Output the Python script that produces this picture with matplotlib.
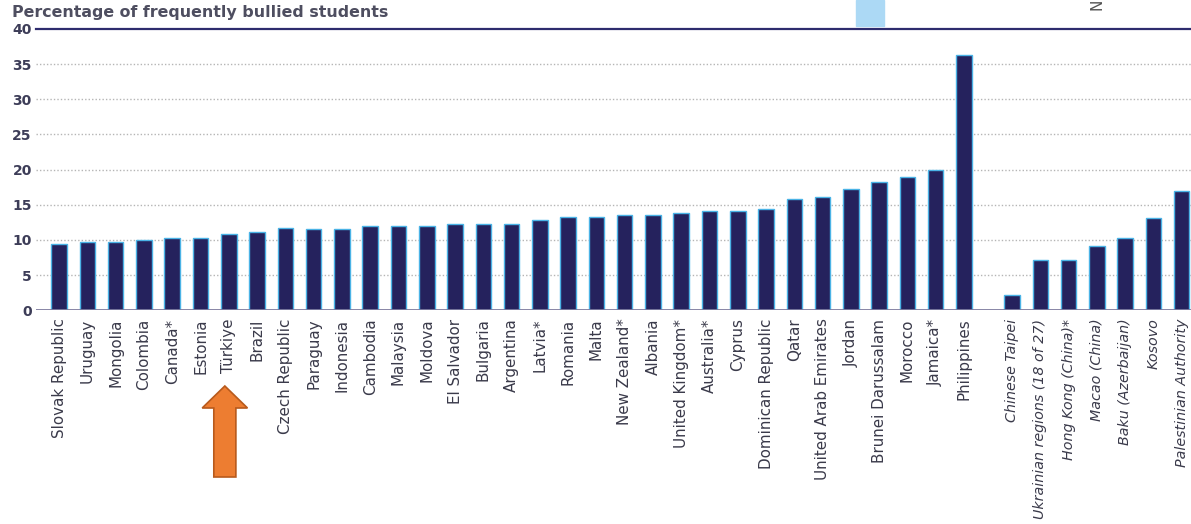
import numpy as np
import matplotlib
matplotlib.use("Agg")
import matplotlib.pyplot as plt
import matplotlib.patches as mpatches
import matplotlib.transforms as mtransforms

# countries sorted by share of frequently bullied students
countries = ["Slovak Republic", "Uruguay", "Mongolia", "Colombia", "Canada*", "Estonia",
             "Türkiye", "Brazil", "Czech Republic", "Paraguay", "Indonesia", "Cambodia",
             "Malaysia", "Moldova", "El Salvador", "Bulgaria", "Argentina", "Latvia*",
             "Romania", "Malta", "New Zealand*", "Albania", "United Kingdom*", "Australia*",
             "Cyprus", "Dominican Republic", "Qatar", "United Arab Emirates", "Jordan",
             "Brunei Darussalam", "Morocco", "Jamaica*", "Philippines"]
country_vals = [9.4, 9.7, 9.7, 10.0, 10.3, 10.3, 10.9, 11.1, 11.7, 11.6, 11.6, 12.0,
                12.0, 12.0, 12.3, 12.3, 12.3, 12.9, 13.2, 13.2, 13.5, 13.5, 13.8, 14.1,
                14.1, 14.4, 15.8, 16.1, 17.2, 18.2, 18.9, 20.0, 36.3]

economies = ["Chinese Taipei", "Ukrainian regions (18 of 27)", "Hong Kong (China)*",
             "Macao (China)", "Baku (Azerbaijan)", "Kosovo", "Palestinian Authority"]
economy_vals = [2.1, 7.1, 7.1, 9.1, 10.3, 13.1, 17.0]

yticks = [0, 5, 10, 15, 20, 25, 30, 35, 40]

navy = "#25225d"
edge = "#4ab3e6"
txt = "#3a3a4a"

fig = plt.figure(figsize=(11.91, 5.24), dpi=100)
ax = fig.add_axes([0.0302, 0.408, 0.9698, 0.5367])

# positions: gap of ~0.7 slot between the two groups
x_c = np.arange(len(countries))
x_e = len(countries) + 0.7 + np.arange(len(economies))
ax.bar(x_c, country_vals, width=0.55, color=navy, edgecolor=edge, linewidth=1.0, zorder=3)
ax.bar(x_e, economy_vals, width=0.55, color=navy, edgecolor=edge, linewidth=1.0, zorder=3)

ax.set_xlim(-0.82, 40.03)
ax.set_ylim(0, 40)
ax.set_yticks(yticks)
ax.set_yticklabels([str(t) for t in yticks], fontsize=10, fontweight="bold", color="#3d3d58")
for t in yticks[1:-1]:
    ax.axhline(t, color="#b5b5b5", lw=1, ls=(0, (1, 1.5)), zorder=1)
ax.axhline(0, color="#7d7b9e", lw=2, zorder=4)

for s in ["left", "right", "bottom"]:
    ax.spines[s].set_visible(False)
ax.spines["top"].set_color("#2e2c6e")
ax.spines["top"].set_linewidth(1.6)
ax.spines["top"].set_zorder(5)
ax.tick_params(axis="y", length=0, pad=3)
ax.tick_params(axis="x", length=0, pad=6)

ax.set_xticks(np.concatenate([x_c, x_e]))
ax.set_xticklabels(countries + economies, rotation=90, fontsize=10.9, color=txt, va="top")
for lbl in ax.get_xticklabels()[len(countries):]:
    lbl.set_fontstyle("italic")
    lbl.set_fontsize(10.3)

fig.text(0.01, 0.977, "Percentage of frequently bullied students", fontsize=11.4,
         fontweight="bold", color="#4e4e60", va="center", ha="left")

# cut-off legend remnants at the top
fig.patches.append(mpatches.Rectangle((856 / 1191, 1 - 26 / 524), 28 / 1191, 26 / 524,
                                      transform=fig.transFigure, color="#acd9f5", zorder=0))
fig.text(1097 / 1191, 1 - 4 / 524, "N", rotation=90, fontsize=11, color="#555555",
         ha="center", va="center")

# orange arrow pointing at Türkiye
idx = countries.index("Türkiye")
trans = mtransforms.blended_transform_factory(ax.transData, fig.transFigure)
arrow = mpatches.FancyArrow(idx - 0.14, 1 - 477 / 524, 0, (477 - 386) / 524, width=0.78,
                            head_width=1.6, head_length=22 / 524, length_includes_head=True,
                            transform=trans, facecolor="#ed7d31", edgecolor="#b85a1c",
                            linewidth=1.2, clip_on=False)
fig.patches.append(arrow)

fig.savefig("out.png", dpi=100)
